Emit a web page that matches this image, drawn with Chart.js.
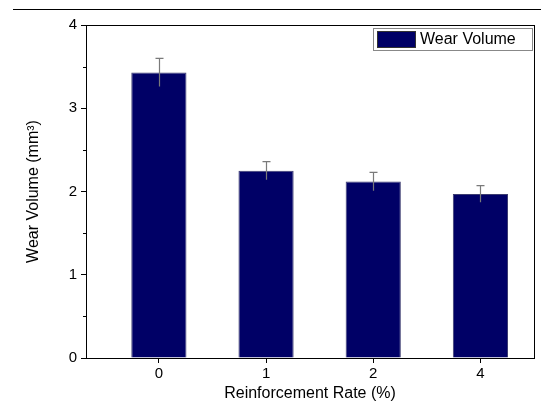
<!doctype html>
<html>

<head>
	<title>Wear Volume</title>
	<script src="https://cdn.jsdelivr.net/npm/chart.js@4/dist/chart.umd.min.js"></script>
	<style>
		html, body {
			margin: 0;
			padding: 0;
			background: #fff;
		}
		.topline {
			position: absolute;
			left: 13px;
			top: 9px;
			width: 528px;
			height: 0;
			border-top: 1.5px solid #000;
		}
		.chart-container {
			position: absolute;
			left: 0;
			top: 0;
			width: 541px;
			height: 403px;
		}
	</style>
</head>

<body>
	<div class="topline"></div>
	<div class="chart-container"><canvas id="chart"></canvas></div>
	<script>
		var categories = ['0', '1', '2', '4'];
		var wearVolume = [3.43, 2.25, 2.12, 1.97];
		var wearError = [0.17, 0.11, 0.11, 0.10];
		var yTicks = [0, 1, 2, 3, 4];

		var navy = '#000066';
		var font = 'Liberation Sans, Arial, sans-serif';

		// error bars, minor ticks, frame and boxed legend (Origin style)
		var originStyle = {
			id: 'originStyle',
			afterDatasetsDraw: function(chart) {
				var ctx = chart.ctx;
				var x = chart.scales.x, y = chart.scales.y;
				ctx.save();
				ctx.strokeStyle = '#7a7a7a';
				ctx.lineWidth = 1.2;
				wearVolume.forEach(function(v, i) {
					var px = Math.round(x.getPixelForValue(i)) + 0.5;
					var top = y.getPixelForValue(v + wearError[i]);
					var bot = y.getPixelForValue(v - wearError[i]);
					ctx.beginPath();
					ctx.moveTo(px, bot);
					ctx.lineTo(px, top);
					ctx.moveTo(px - 4, top);
					ctx.lineTo(px + 4, top);
					ctx.stroke();
				});
				ctx.restore();
			},
			afterDraw: function(chart) {
				var ctx = chart.ctx;
				var a = chart.chartArea;
				var y = chart.scales.y;
				ctx.save();
				ctx.strokeStyle = '#000';
				ctx.lineWidth = 1;
				ctx.strokeRect(a.left + 0.5, a.top + 0.5, a.right - a.left, a.bottom - a.top);
				// minor ticks
				ctx.beginPath();
				for (var k = 0; k < yTicks.length - 1; k++) {
					var py = Math.round(y.getPixelForValue(yTicks[k] + 0.5)) + 0.5;
					ctx.moveTo(a.left, py);
					ctx.lineTo(a.left - 3, py);
				}
				ctx.stroke();
				// legend box
				var lx = 373, ly = 28, lw = 159, lh = 22;
				ctx.fillStyle = '#fff';
				ctx.fillRect(lx, ly, lw, lh);
				ctx.strokeStyle = '#888';
				ctx.strokeRect(lx + 0.5, ly + 0.5, lw, lh);
				ctx.fillStyle = navy;
				ctx.fillRect(lx + 4, ly + 3, 38, 16);
				ctx.strokeStyle = '#333';
				ctx.strokeRect(lx + 4.5, ly + 3.5, 38, 16);
				ctx.fillStyle = '#000';
				ctx.font = '16px ' + font;
				ctx.textBaseline = 'middle';
				ctx.fillText(chart.data.datasets[0].label, lx + 47, ly + lh / 2 + 1);
				ctx.restore();
			}
		};

		window.onload = function() {
			var ctx = document.getElementById('chart').getContext('2d');
			new Chart(ctx, {
				type: 'bar',
				data: {
					datasets: [{
						label: 'Wear Volume',
						data: wearVolume.map(function(v, i) { return {x: i, y: v}; }),
						backgroundColor: navy,
						borderColor: '#3c3c70',
						borderWidth: 1,
						categoryPercentage: 1,
						barPercentage: 0.515
					}]
				},
				plugins: [originStyle],
				options: {
					responsive: true,
					maintainAspectRatio: false,
					animation: false,
					layout: {
						padding: {left: 0, top: 25, right: 7, bottom: 0}
					},
					plugins: {
						legend: {display: false},
						tooltip: {enabled: false}
					},
					scales: {
						x: {
							type: 'linear',
							offset: false,
							min: -0.68,
							max: 3.5,
							afterBuildTicks: function(scale) {
								scale.ticks = categories.map(function(c, i) { return {value: i}; });
							},
							afterFit: function(scale) {
								scale.height = 45;
							},
							ticks: {
								color: '#000',
								font: {family: font, size: 15},
								padding: 2,
								callback: function(value) {
									return categories[value];
								}
							},
							grid: {
								offset: false,
								drawOnChartArea: false,
								color: '#000',
								tickLength: 5
							},
							border: {color: '#000'},
							title: {
								display: true,
								text: 'Reinforcement Rate (%)',
								color: '#000',
								font: {family: font, size: 16},
								padding: {top: 0, bottom: 0}
							}
						},
						y: {
							min: 0,
							max: 4,
							afterBuildTicks: function(scale) {
								scale.ticks = yTicks.map(function(v) { return {value: v}; });
							},
							afterFit: function(scale) {
								scale.width = 86;
							},
							ticks: {
								color: '#000',
								font: {family: font, size: 15},
								padding: 4
							},
							grid: {
								drawOnChartArea: false,
								color: '#000',
								tickLength: 5
							},
							border: {color: '#000'},
							title: {
								display: true,
								text: 'Wear Volume (mm³)',
								color: '#000',
								font: {family: font, size: 16},
								padding: {top: 24, bottom: 0}
							}
						}
					}
				}
			});
		};
	</script>
</body>

</html>
